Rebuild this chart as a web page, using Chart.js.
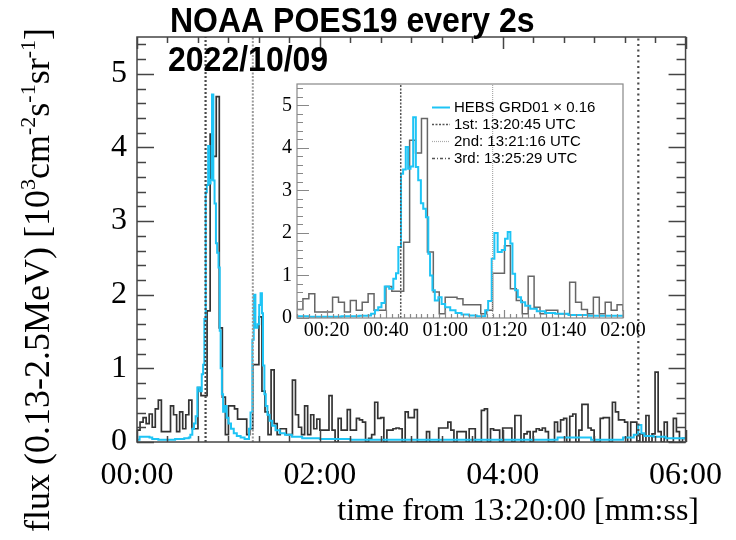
<!DOCTYPE html>
<html>
<head>
<meta charset="utf-8">
<script src="https://cdn.jsdelivr.net/npm/chart.js@4.4.1/dist/chart.umd.min.js"></script>
<style>
  body { margin: 0; background: #fff; }
  #wrap { position: relative; width: 736px; height: 540px; }
  #main { position: absolute; left: 0; top: 0; }
  #inset { position: absolute; left: 240px; top: 60px; }
</style>
</head>
<body>
<div id="wrap">
  <canvas id="main" width="736" height="540"></canvas>
  <canvas id="inset" width="420" height="300"></canvas>
</div>
<script>
// NOAA POES19, 2 s bins from 13:20:00 (flux 0.13-2.5MeV, 10^3 /cm2/s/sr)
const noaaBinWidth = 2;
const noaaFlux = [
  0.16, 0.27, 0.33, 0.25, 0.38, 0.20, 0.45, 0.57, 0.14, 0.14,
  0.14, 0.49, 0.37, 0.14, 0.41, 0.18, 0.37, 0.57, 0.18, 0.18,
  0.74, 0.63, 0.63, 1.78, 4.18, 3.88, 4.69, 1.55, 0.61, 0.10,
  0.49, 0.49, 0.45, 0.31, 0.31, 0.31, 0.10, 0.18, 1.05, 1.05,
  1.70, 0.69, 0.41, 0.10, 0.98, 0.25, 0.10, 0.18, 0.18, 0.10,
  0.10, 0.84, 0.37, 0.20, 0.10, 0.49, 0.10, 0.37, 0.18, 0.31,
  0.16, 0.16, 0.16, 0.63, 0.16, 0.00, 0.32, 0.16, 0.16, 0.44,
  0.16, 0.16, 0.32, 0.30, 0.27, 0.00, 0.05, 0.10, 0.54, 0.32,
  0.33, 0.00, 0.16, 0.16, 0.18, 0.19, 0.18, 0.00, 0.41, 0.33,
  0.33, 0.44, 0.00, 0.00, 0.00, 0.14, 0.00, 0.00, 0.00, 0.19,
  0.19, 0.19, 0.27, 0.16, 0.00, 0.14, 0.14, 0.14, 0.00, 0.18,
  0.18, 0.00, 0.00, 0.43, 0.45, 0.00, 0.18, 0.16, 0.16, 0.00,
  0.19, 0.19, 0.19, 0.00, 0.36, 0.36, 0.00, 0.11, 0.14, 0.00,
  0.14, 0.18, 0.16, 0.19, 0.14, 0.00, 0.00, 0.27, 0.14, 0.30,
  0.32, 0.00, 0.35, 0.38, 0.00, 0.16, 0.51, 0.51, 0.19, 0.16,
  0.00, 0.00, 0.32, 0.33, 0.33, 0.00, 0.54, 0.41, 0.30, 0.30,
  0.27, 0.00, 0.27, 0.27, 0.00, 0.11, 0.00, 0.36, 0.00, 0.11,
  0.95, 0.14, 0.00, 0.27, 0.00, 0.00, 0.32, 0.14, 0.00, 0.05
];

// HEBS GRD01 (x0.16): step start time [s] and value
const hebsStart = [
  0, 1.7, 8.2, 10, 14, 25, 31, 34, 35, 36.3,
  37.4, 38.5, 39.6, 41.1, 42.5, 43.4, 44.2, 45.1, 45.8, 46.7,
  47.5, 48.3, 49.2, 50.1, 50.9, 51.8, 52.6, 53.5, 54.3, 54.9,
  55.7, 56.5, 57.7, 58.8, 60, 61.7, 63.5, 65.5, 68, 70.6,
  73.5, 74.5, 75.7, 76.6, 77.7, 79.1, 80.2, 81.1, 82, 82.7,
  83.6, 84.5, 85.6, 87, 88.7, 90.9, 93.7, 97.1, 101.6, 108.4,
  120, 140, 276, 298, 319, 326, 329, 331, 333, 339,
  347
];
const hebsFlux = [
  0.03, 0.07, 0.06, 0.04, 0.03, 0.04, 0.05, 0.06, 0.10, 0.18,
  0.25, 0.35, 0.74, 0.69, 0.92, 1.05, 1.67, 3.39, 3.49, 4.02,
  3.51, 3.56, 4.72, 3.55, 3.24, 2.70, 2.57, 2.37, 1.51, 1.00,
  0.65, 0.41, 0.49, 0.33, 0.25, 0.18, 0.12, 0.08, 0.06, 0.04,
  0.18, 0.40, 1.39, 2.00, 1.55, 1.60, 1.86, 2.02, 1.75, 1.04,
  0.65, 0.49, 0.37, 0.29, 0.22, 0.16, 0.12, 0.10, 0.07, 0.05,
  0.04, 0.03, 0.06, 0.03, 0.06, 0.10, 0.23, 0.12, 0.08, 0.07,
  0.05
];

// trigger times [s from 13:20:00]
const eventTimes = [45, 76, 329];
const eventLabels = ['1st: 13:20:45 UTC', '2nd: 13:21:16 UTC', '3rd: 13:25:29 UTC'];
const hebsLabel = 'HEBS GRD01 \u00d7 0.16';

const mainXTicks = [0, 120, 240, 360];
const insetXTicks = [20, 40, 60, 80, 100, 120];
const yTicks = [0, 1, 2, 3, 4, 5];
const xMax = 360;
const yMax = 5.5;

const serif = '"Liberation Serif", "Times New Roman", serif';
const sans = '"Liberation Sans", Arial, sans-serif';
const cyan = '#1ec4f5';

function mmss(v) {
  const m = Math.floor(v / 60);
  const s = Math.round(v - m * 60);
  return String(m).padStart(2, '0') + ':' + String(s).padStart(2, '0');
}

// histogram steps: each point holds its value until the next one
function stepPoints(xs, ys, end) {
  const pts = xs.map((x, i) => ({x: x, y: ys[i]}));
  pts.push({x: end, y: ys[ys.length - 1]});
  return pts;
}

const noaaPoints = stepPoints(noaaFlux.map((v, i) => i * noaaBinWidth), noaaFlux, noaaFlux.length * noaaBinWidth);
const hebsPoints = stepPoints(hebsStart, hebsFlux, xMax);

function makeDatasets(st) {
  const sets = [{
    label: hebsLabel, data: hebsPoints, stepped: true, order: 1,
    borderColor: cyan, borderWidth: st.hebsWidth, inLegend: true
  }, {
    label: 'NOAA POES19', data: noaaPoints, stepped: true, order: 2,
    borderColor: st.noaaColor, borderWidth: st.noaaWidth, inLegend: false
  }];
  eventTimes.forEach((t, i) => {
    sets.push({
      label: eventLabels[i], data: [{x: t, y: 0}, {x: t, y: yMax}], order: 0,
      borderColor: st.events[i].color, borderWidth: st.events[i].width,
      borderDash: st.events[i].dash, inLegend: true
    });
  });
  sets.forEach(ds => { ds.pointRadius = 0; ds.fill = false; ds.clip = 0; });
  return sets;
}

// frame + inward tick marks like a ROOT pad
const rootFrame = {
  id: 'rootFrame',
  beforeDraw(chart, args, o) {
    if (!o.fill) return;
    const a = chart.chartArea;
    chart.ctx.save();
    chart.ctx.fillStyle = o.fill;
    chart.ctx.fillRect(a.left, a.top, a.right - a.left, a.bottom - a.top);
    chart.ctx.restore();
  },
  afterDraw(chart, args, o) {
    const {ctx, chartArea: a, scales: {x, y}} = chart;
    const isMajor = (v, major) => Math.abs(v / major - Math.round(v / major)) < 1e-6;
    ctx.save();
    ctx.strokeStyle = o.color;
    ctx.lineWidth = o.width;
    ctx.beginPath();
    for (let k = Math.ceil(x.min / o.xMinor - 1e-6); k * o.xMinor <= x.max + 1e-6; k++) {
      const v = k * o.xMinor;
      const px = Math.round(x.getPixelForValue(v)) + 0.5;
      const len = isMajor(v, o.xMajor) ? o.xLen[0] : o.xLen[1];
      ctx.moveTo(px, a.bottom); ctx.lineTo(px, a.bottom - len);
      if (o.mirror) { ctx.moveTo(px, a.top); ctx.lineTo(px, a.top + len); }
    }
    for (let k = Math.ceil(y.min / o.yMinor - 1e-6); k * o.yMinor <= y.max + 1e-6; k++) {
      const v = k * o.yMinor;
      const py = Math.round(y.getPixelForValue(v)) + 0.5;
      const len = isMajor(v, o.yMajor) ? o.yLen[0] : o.yLen[1];
      ctx.moveTo(a.left, py); ctx.lineTo(a.left + len, py);
      if (o.mirror) { ctx.moveTo(a.right, py); ctx.lineTo(a.right - len, py); }
    }
    ctx.stroke();
    ctx.strokeRect(a.left, a.top, a.right - a.left, a.bottom - a.top);
    ctx.restore();
  }
};

// titles of the main pad (y title has superscripts)
const yTitleParts = [['flux (0.13-2.5MeV) [10', 0], ['3', 1], ['cm', 0], ['-2', 1], ['s', 0], ['-1', 1], ['sr', 0], ['-1', 1], [']', 0]];
const mainText = {
  id: 'mainText',
  afterDraw(chart) {
    const ctx = chart.ctx;
    ctx.save();
    ctx.fillStyle = '#000';
    ctx.textBaseline = 'alphabetic';
    ctx.font = 'bold 32px ' + sans;
    ctx.save();
    ctx.translate(170, 32);
    ctx.scale(1, 1.1);
    ctx.fillText('NOAA POES19 every 2s', 0, 0);
    ctx.restore();
    ctx.save();
    ctx.translate(168, 71);
    ctx.scale(1, 1.08);
    ctx.fillText('2022/10/09', 0, 0);
    ctx.restore();

    ctx.font = '32px ' + serif;
    ctx.textAlign = 'right';
    ctx.fillText('time from 13:20:00 [mm:ss]', 699, 520);

    ctx.textAlign = 'left';
    ctx.translate(49, 28);
    ctx.rotate(-Math.PI / 2);
    const big = '36px ' + serif;
    const small = '22px ' + serif;
    let w = 0;
    yTitleParts.forEach(p => { ctx.font = p[1] ? small : big; w += ctx.measureText(p[0]).width; });
    let cx = -w;
    yTitleParts.forEach(p => {
      ctx.font = p[1] ? small : big;
      ctx.fillText(p[0], cx, p[1] ? -14 : 0);
      cx += ctx.measureText(p[0]).width;
    });
    ctx.restore();
  }
};

// legend box inside the inset (HEBS + trigger lines only)
const insetLegend = {
  id: 'insetLegend',
  afterDraw(chart, args, o) {
    const {ctx, chartArea: a} = chart;
    ctx.save();
    ctx.font = o.font;
    ctx.fillStyle = '#000';
    ctx.textBaseline = 'middle';
    let row = 0;
    chart.data.datasets.forEach(ds => {
      if (!ds.inLegend) return;
      const x = a.left + o.left;
      const y = a.top + o.top + row * o.rowHeight;
      ctx.strokeStyle = ds.borderColor;
      ctx.lineWidth = ds.borderWidth;
      ctx.setLineDash(ds.borderDash || []);
      ctx.beginPath();
      ctx.moveTo(x, y); ctx.lineTo(x + o.lineLength, y);
      ctx.stroke();
      ctx.setLineDash([]);
      ctx.fillText(ds.label, x + o.lineLength + o.gap, y);
      row++;
    });
    ctx.restore();
  }
};

function axisOptions(min, max, ticks, fontSize, padding, fitKey, fitSize, fmt) {
  return {
    type: 'linear', min: min, max: max,
    grid: {display: false, drawTicks: false},
    border: {display: false},
    afterBuildTicks: s => { s.ticks = ticks.map(v => ({value: v})); },
    afterFit: s => { s[fitKey] = fitSize; },
    ticks: {
      padding: padding, maxRotation: 0, autoSkip: false, color: '#000',
      font: {family: serif, size: fontSize},
      callback: fmt
    }
  };
}

const mainStyle = {
  hebsWidth: 2, noaaColor: '#333', noaaWidth: 1.7,
  events: [
    {color: '#4a4a4a', width: 2.2, dash: [2, 2]},
    {color: '#9a9a9a', width: 2, dash: [2, 1.5]},
    {color: '#4a4a4a', width: 2.2, dash: [2, 3.5]}
  ]
};
const insetStyle = {
  hebsWidth: 2, noaaColor: '#666', noaaWidth: 1.5,
  events: [
    {color: '#555', width: 1.5, dash: [2, 1.5]},
    {color: '#aaa', width: 1.2, dash: [1, 1]},
    {color: '#555', width: 1.4, dash: [3, 2, 1, 2]}
  ]
};

new Chart(document.getElementById('main'), {
  type: 'line',
  data: {datasets: makeDatasets(mainStyle)},
  options: {
    responsive: false, animation: false, events: [], devicePixelRatio: 1,
    layout: {padding: {left: 0, top: 37, right: 38, bottom: 0}},
    scales: {
      x: axisOptions(0, xMax, mainXTicks, 32, 14, 'height', 98, v => mmss(v)),
      y: axisOptions(0, yMax, yTicks, 32, 10, 'width', 137, v => String(v))
    },
    plugins: {
      legend: {display: false},
      tooltip: {enabled: false},
      rootFrame: {color: '#444', width: 1.5, mirror: true,
        xMinor: 20, xMajor: 120, xLen: [12, 6],
        yMinor: 0.2, yMajor: 1, yLen: [17, 9]}
    }
  },
  plugins: [rootFrame, mainText]
});

new Chart(document.getElementById('inset'), {
  type: 'line',
  data: {datasets: makeDatasets(insetStyle)},
  options: {
    responsive: false, animation: false, events: [], devicePixelRatio: 1,
    layout: {padding: {left: 0, top: 24, right: 37, bottom: 0}},
    scales: {
      x: axisOptions(10, 120, insetXTicks, 20, 1, 'height', 42, v => mmss(v)),
      y: axisOptions(0, yMax, yTicks, 20, 5, 'width', 57, v => String(v))
    },
    plugins: {
      legend: {display: false},
      tooltip: {enabled: false},
      rootFrame: {color: '#888', width: 1.2, mirror: false, fill: '#fff',
        xMinor: 2, xMajor: 20, xLen: [8, 4],
        yMinor: 0.2, yMajor: 1, yLen: [12, 6]},
      insetLegend: {font: '15px ' + sans, left: 135, top: 23.5, rowHeight: 17, lineLength: 18, gap: 4}
    }
  },
  plugins: [rootFrame, insetLegend]
});
</script>
</body>
</html>
